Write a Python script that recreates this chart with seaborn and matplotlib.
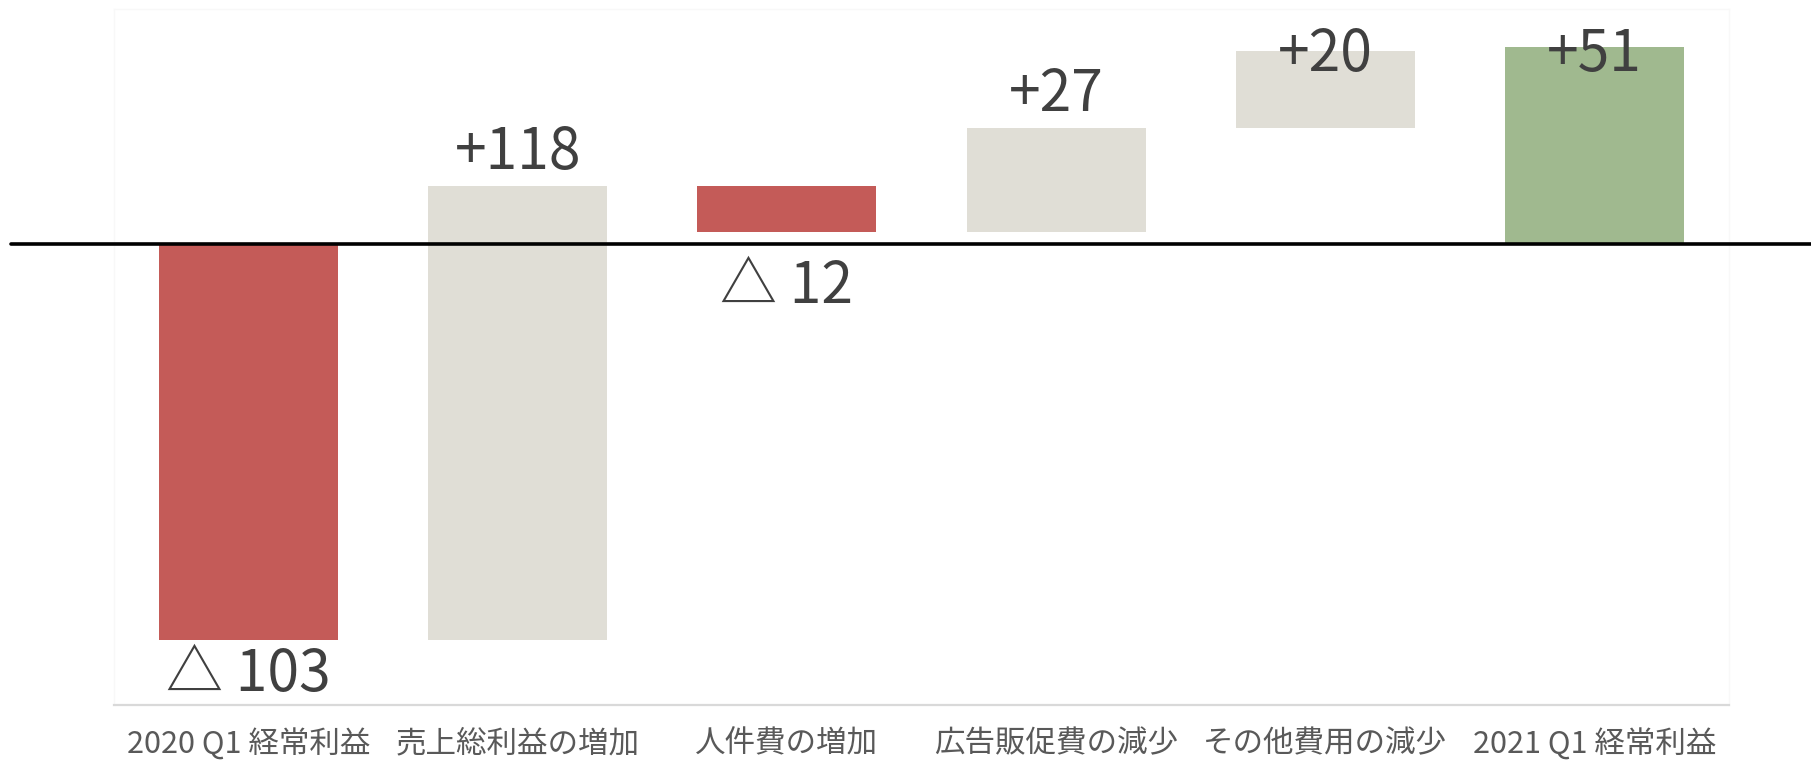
import matplotlib
matplotlib.use("Agg")
import matplotlib.pyplot as plt
import seaborn as sns
import numpy as np
import pandas as pd

# waterfall items (2020 Q1 -> 2021 Q1 経常利益)
items = ["2020 Q1 経常利益", "売上総利益の増加", "人件費の増加",
         "広告販促費の減少", "その他費用の減少", "2021 Q1 経常利益"]
values = [-103, 118, -12, 27, 20, 51]
kinds = ["total", "delta", "delta", "delta", "delta", "total"]

RED = "#C45B58"
BEIGE = "#E0DED6"
GREEN = "#A0B98F"

sns.set_theme(style="white")
plt.rcParams["font.family"] = ["Noto Sans CJK JP", "DejaVu Sans"]

# running totals -> bar bottoms
bottoms = []
running = 0
for v, k in zip(values, kinds):
    if k == "total":
        bottoms.append(0)
        running = v
    else:
        bottoms.append(running)
        running += v

colors = []
for v, k in zip(values, kinds):
    if v < 0:
        colors.append(RED)
    elif k == "total":
        colors.append(GREEN)
    else:
        colors.append(BEIGE)

df = pd.DataFrame({"item": items, "value": values, "bottom": bottoms})

fig = plt.figure(figsize=(18.11, 7.62), dpi=100)
ax = fig.add_axes([0.0629, 0.0748, 0.8918, 0.9134])

sns.barplot(data=df, x="item", y="value", order=items, bottom=np.array(bottoms),
            color=BEIGE, saturation=1, width=0.665, errorbar=None,
            linewidth=0, ax=ax)
for patch, c in zip(ax.patches, colors):
    patch.set_facecolor(c)
    patch.set_edgecolor(c)

ax.set_xlim(-0.5, len(items) - 0.5)
ax.set_ylim(-120, 61)

# zero line running across the whole figure width
ax.axhline(0, xmin=-0.064, xmax=1.06, color="black", lw=2.6, clip_on=False, zorder=5)

# value labels
for i, (v, b) in enumerate(zip(values, bottoms)):
    if v >= 0:
        y = min(b + v + 4.5, 45)
        txt = f"+{v}"
    else:
        y = max(b + v - 18.4, -116.3)
        txt = f"△ {abs(v)}"
    ax.text(i, y, txt, ha="center", va="baseline", fontsize=41,
            color="#404040", zorder=6)

ax.set_xlabel("")
ax.set_ylabel("")
ax.set_yticks([])
ax.tick_params(axis="x", length=0, pad=17, labelsize=22, labelcolor="#595959")

for side in ["top", "left", "right"]:
    ax.spines[side].set_color("#F8F8F8")
    ax.spines[side].set_linewidth(1)
ax.spines["bottom"].set_color("#D9D9D9")
ax.spines["bottom"].set_linewidth(1.6)

fig.savefig("out.png", dpi=100)
